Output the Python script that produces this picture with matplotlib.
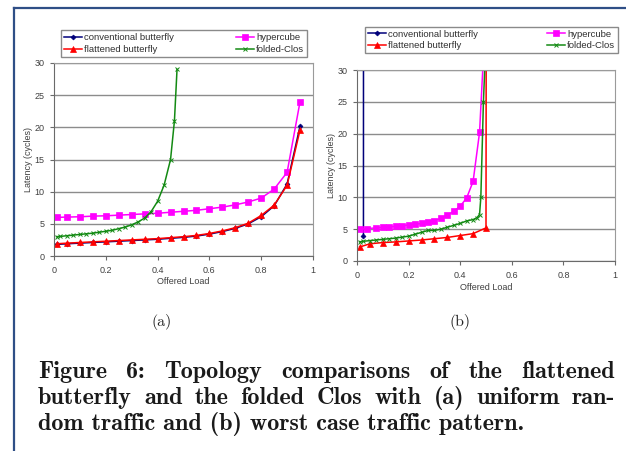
import numpy as np
import matplotlib
matplotlib.use("Agg")
import matplotlib.pyplot as plt
from matplotlib.lines import Line2D

# ---- data, panel (a): uniform random traffic ----
a_load = [0.01, 0.05, 0.1, 0.15, 0.2, 0.25, 0.3, 0.35, 0.4, 0.45, 0.5,
          0.55, 0.6, 0.65, 0.7, 0.75, 0.8, 0.85, 0.9, 0.95]
a_conv = [1.8, 1.9, 2.0, 2.1, 2.2, 2.3, 2.4, 2.5, 2.6, 2.75, 2.9,
          3.1, 3.4, 3.8, 4.3, 5.0, 6.1, 7.8, 11.2, 20.2]
a_flat = [1.9, 2.0, 2.1, 2.2, 2.3, 2.4, 2.5, 2.6, 2.7, 2.85, 3.0,
          3.2, 3.5, 3.9, 4.4, 5.1, 6.3, 7.9, 11.0, 19.6]
a_hyper = [6.0, 6.05, 6.1, 6.2, 6.25, 6.35, 6.45, 6.55, 6.65, 6.8, 6.95,
           7.1, 7.35, 7.6, 7.95, 8.4, 9.0, 10.4, 13.0, 24.0]
a_clos_load = [0.01, 0.025, 0.05, 0.075, 0.1, 0.125, 0.15, 0.175, 0.2, 0.225,
               0.25, 0.275, 0.3, 0.325, 0.35, 0.375, 0.4, 0.425, 0.45, 0.465, 0.475]
a_clos = [3.0, 3.05, 3.15, 3.25, 3.35, 3.45, 3.55, 3.7, 3.85, 4.0,
          4.25, 4.5, 4.85, 5.3, 5.9, 6.9, 8.5, 11.0, 15.0, 21.0, 29.0]

# ---- data, panel (b): worst case traffic ----
b_conv_load = [0.025, 0.026]
b_conv = [4.0, 200.0]
b_flat_load = [0.01, 0.05, 0.1, 0.15, 0.2, 0.25, 0.3, 0.35, 0.4, 0.45, 0.5, 0.505]
b_flat = [2.2, 2.7, 2.9, 3.0, 3.15, 3.3, 3.5, 3.7, 4.0, 4.3, 5.2, 200.0]
b_hyper_load = [0.01, 0.04, 0.075, 0.1, 0.125, 0.15, 0.175, 0.2, 0.225, 0.25,
                0.275, 0.3, 0.325, 0.35, 0.375, 0.4, 0.425, 0.45, 0.475, 0.5]
b_hyper = [5.0, 5.1, 5.2, 5.3, 5.35, 5.45, 5.55, 5.65, 5.75, 5.9,
           6.1, 6.35, 6.7, 7.2, 7.8, 8.6, 9.9, 12.5, 20.2, 40.0]
b_clos_load = [0.01, 0.025, 0.05, 0.075, 0.1, 0.125, 0.15, 0.175, 0.2, 0.225,
               0.25, 0.275, 0.3, 0.325, 0.35, 0.375, 0.4, 0.425, 0.45, 0.465,
               0.475, 0.48, 0.49, 0.5]
b_clos = [3.0, 3.1, 3.2, 3.3, 3.4, 3.5, 3.6, 3.75, 3.9, 4.2,
          4.5, 4.8, 4.8, 5.0, 5.3, 5.6, 5.9, 6.3, 6.5, 6.8,
          7.3, 10.0, 25.0, 35.0]

names = ["conventional butterfly", "flattened butterfly", "hypercube", "folded-Clos"]
x_ticks = [0, 0.2, 0.4, 0.6, 0.8, 1.0]
x_labels = ["0", "0.2", "0.4", "0.6", "0.8", "1"]
y_ticks = [0, 5, 10, 15, 20, 25, 30]
y_labels = ["0", "5", "10", "15", "20", "25", "30"]

caption = ["Figure 6:  Topology comparisons of the flattened",
           "butterfly and the folded Clos with (a) uniform ran-",
           "dom traffic and (b) worst case traffic pattern."]

styles = {
    "conventional butterfly": dict(color="#00007a", marker="D", ms=2.5),
    "flattened butterfly": dict(color="#ff0000", marker="^", ms=4.5),
    "hypercube": dict(color="#ff00ff", marker="s", ms=4.5),
    "folded-Clos": dict(color="#138a13", marker="x", ms=2.5, mew=0.7),
}

W, H = 626, 451
fig = plt.figure(figsize=(W / 100, H / 100), dpi=100)
fig.patch.set_facecolor("white")

sans = "Liberation Sans"
tick_color = "#404040"


def panel(rect, series, legend_rect):
    ax = fig.add_axes(rect)
    handles = {}
    for name in ["conventional butterfly", "hypercube", "flattened butterfly", "folded-Clos"]:
        xs, ys = series[name]
        st = styles[name]
        h, = ax.plot(xs, ys, color=st["color"], lw=1.1, marker=st["marker"],
                     ms=st["ms"], mew=st.get("mew", 0.5), mec=st["color"])
        handles[name] = h
    ax.set_xlim(0, 1)
    ax.set_ylim(0, 30)
    ax.set_xticks(x_ticks)
    ax.set_xticklabels(x_labels)
    ax.set_yticks(y_ticks)
    ax.set_yticklabels(y_labels)
    ax.grid(axis="y", color="#8c8c8c", lw=1.0)
    ax.set_axisbelow(True)
    for side in ["top", "right"]:
        ax.spines[side].set_color("#9a9a9a")
    for side in ["left", "bottom"]:
        ax.spines[side].set_color("#6a6a6a")
    ax.tick_params(direction="out", length=3, width=0.8, color="#6a6a6a",
                   labelsize=6.5, labelcolor=tick_color, pad=4)
    for lab in ax.get_xticklabels() + ax.get_yticklabels():
        lab.set_family(sans)
    ax.set_xlabel("Offered Load", fontsize=6.5, family=sans, color=tick_color, labelpad=2)
    ax.set_ylabel("Latency (cycles)", fontsize=6.5, family=sans, color=tick_color, labelpad=1)
    leg = ax.legend([handles[n] for n in names], names, ncol=2, mode="expand",
                    loc="center", bbox_to_anchor=legend_rect,
                    bbox_transform=fig.transFigure, fancybox=False,
                    prop={"family": sans, "size": 6.8}, handlelength=2.0,
                    handletextpad=0.2, borderpad=0.3, labelspacing=0.3,
                    columnspacing=1.0, edgecolor="#8a8a8a", framealpha=1)
    leg.get_frame().set_linewidth(1.0)
    for t in leg.get_texts():
        t.set_color("#303030")
    return ax


def fx(px):
    return px / W


def fy(py):
    return 1 - py / H


panel([fx(54), fy(256), fx(313) - fx(54), fy(63) - fy(256)],
      {"conventional butterfly": (a_load, a_conv),
       "flattened butterfly": (a_load, a_flat),
       "hypercube": (a_load, a_hyper),
       "folded-Clos": (a_clos_load, a_clos)},
      (fx(56), fy(60), fx(312) - fx(56), fy(27) - fy(60)))

panel([fx(357), fy(261), fx(615) - fx(357), fy(70) - fy(261)],
      {"conventional butterfly": (b_conv_load, b_conv),
       "flattened butterfly": (b_flat_load, b_flat),
       "hypercube": (b_hyper_load, b_hyper),
       "folded-Clos": (b_clos_load, b_clos)},
      (fx(360), fy(58), fx(623) - fx(360), fy(22) - fy(58)))

# page frame of the screenshot
fig.add_artist(Line2D([fx(14), fx(14)], [fy(8), 0], color="#2f4f86", lw=1.6))
fig.add_artist(Line2D([fx(14), 1], [fy(8), fy(8)], color="#2f4f86", lw=1.6))

# sub captions
fig.text(fx(162), fy(322), "(a)", family="cmr10", fontsize=11.5,
         ha="center", va="center", color="#222222")
fig.text(fx(460), fy(322), "(b)", family="cmr10", fontsize=11.5,
         ha="center", va="center", color="#222222")

# justified figure caption
renderer = fig.canvas.get_renderer()
cap_kw = dict(family="cmb10", fontsize=17.4, color="#1a1a1a", va="baseline")


def word_width(w):
    t = fig.text(0, 0, w, **cap_kw)
    wd = t.get_window_extent(renderer).width
    t.remove()
    return wd


x_left, x_right = 38, 615
baselines = [378, 404, 430]
for i, line in enumerate(caption):
    if i == len(caption) - 1:
        fig.text(fx(x_left), fy(baselines[i]), line, **cap_kw)
        continue
    words = line.split()
    widths = [word_width(w) for w in words]
    gap = (x_right - x_left - sum(widths)) / (len(words) - 1)
    x = x_left
    for w, wd in zip(words, widths):
        fig.text(fx(x), fy(baselines[i]), w, **cap_kw)
        x += wd + gap

fig.savefig("out.png", dpi=100, facecolor="white")
